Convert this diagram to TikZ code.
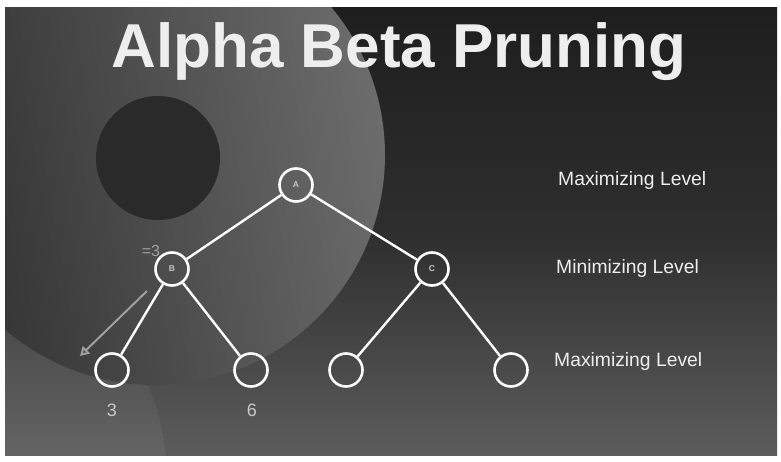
\documentclass[tikz,border=0pt]{standalone}
\usepackage{fontspec}
\setmainfont{Liberation Sans}
\usetikzlibrary{arrows.meta}
\definecolor{bgtop}{HTML}{1E1E1E}
\definecolor{bgmid}{HTML}{2E2E2E}
\definecolor{bgbot}{HTML}{5C5C5C}
\definecolor{circL}{HTML}{303030}
\definecolor{circR}{HTML}{6C6C6C}
\definecolor{inner}{HTML}{2A2A2A}
\definecolor{textw}{HTML}{EEEEEE}
\definecolor{numc}{HTML}{C8C8C8}
\definecolor{arrc}{HTML}{A0A0A0}
\tikzset{
  tnode/.style={circle, draw=white, line width=2.6pt, minimum size=33pt, inner sep=0pt,
    text=numc, font=\fontsize{8.5}{8.5}\selectfont\bfseries},
  edge/.style={white, line width=2.4pt},
  lvl/.style={anchor=base west, inner sep=0pt, text=textw, font=\fontsize{19.3}{19.3}\selectfont},
  num/.style={anchor=base, inner sep=0pt, text=numc, font=\fontsize{18}{18}\selectfont},
}
\begin{document}
\begin{tikzpicture}[x=1pt,y=-1pt]
\useasboundingbox (0,0) rectangle (781,462);
\fill[white] (0,0) rectangle (781,462);
\begin{scope}
\clip (5,8) rectangle (777,455);
\shade[top color=bgtop, bottom color=bgbot, middle color=bgmid] (5,8) rectangle (777,455);
% lower-left lighter arc
\fill[white, opacity=0.05] (-80,480) circle (247);
% big circle
\shade[left color=circL, right color=circR, shading angle=100] (155,155) circle (230);
% inner dark circle
\fill[inner] (158,158) circle (62);
\end{scope}
% title
\node[anchor=base, inner sep=0pt, text=textw, font=\fontsize{62}{62}\selectfont\bfseries] (title) at (399,68) {Alpha Beta Pruning};
% tree nodes
\node[tnode] (A) at (296,185) {A};
\node[tnode] (B) at (172,269) {B};
\node[tnode] (C) at (432,269) {C};
\node[tnode] (L1) at (112,370) {};
\node[tnode] (L2) at (251,370) {};
\node[tnode] (L3) at (346,370) {};
\node[tnode] (L4) at (511,370) {};
\draw[edge] (A) -- (B);
\draw[edge] (A) -- (C);
\draw[edge] (B) -- (L1);
\draw[edge] (B) -- (L2);
\draw[edge] (C) -- (L3);
\draw[edge] (C) -- (L4);
% arrow
\coordinate (as) at (147,291);
\coordinate (ae) at (80,356);
\draw[arrc, line width=2pt, -{Triangle[open, length=9pt, width=10pt]}] (as) -- (ae);
% labels
\node[anchor=base, inner sep=0pt, text=arrc, font=\fontsize{16}{16}\selectfont] (eq) at (151,257) {=3};
\node[num] (n3) at (112,416) {3};
\node[num] (n6) at (252,416) {6};
\node[lvl] (m1) at (558,186) {Maximizing Level};
\node[lvl] (m2) at (556,273) {Minimizing Level};
\node[lvl] (m3) at (554,366) {Maximizing Level};
\end{tikzpicture}
\end{document}
